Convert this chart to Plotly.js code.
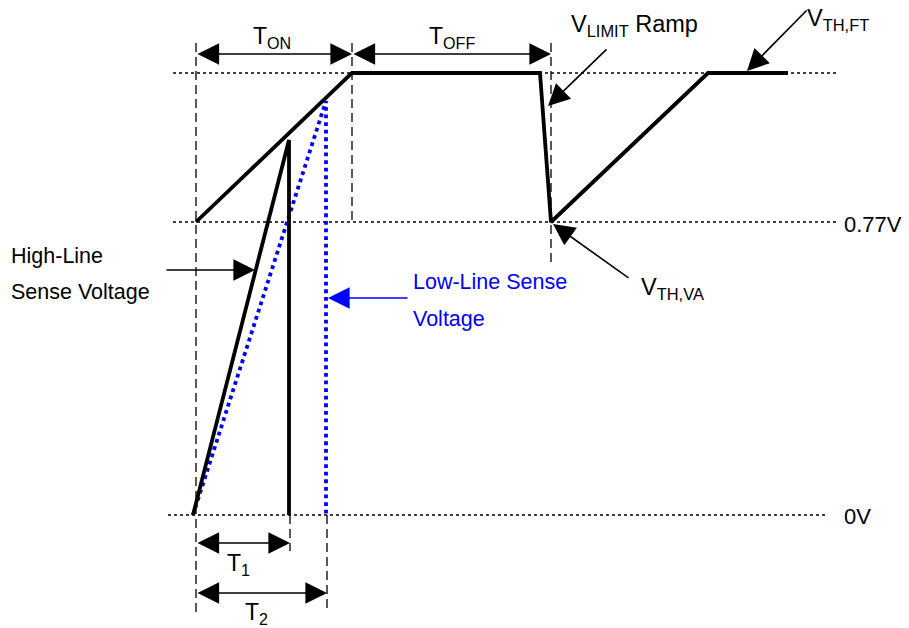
<!DOCTYPE html>
<html>
<head>
<meta charset="utf-8">
<script src="https://cdn.plot.ly/plotly-3.0.1.min.js"></script>
<style>html,body{margin:0;padding:0;background:#fff;}#chart{width:909px;height:628px;}</style>
</head>
<body>
<div id="chart"></div>
<script>
// ---- diagram data (drawing units = reference pixels) ----
const levelNames = ["VTH,FT", "0.77V", "0V"];
const levelY = [73, 222, 515];
const levelX0 = [173, 173, 168];
const levelX1 = [838, 838, 826];

const markerX = [196, 352, 551, 290, 327];
const markerY0 = [43, 43, 43, 515, 515];
const markerY1 = [612, 222, 262, 551, 612];

const limitX = [196, 352, 540, 551, 708, 788];
const limitY = [222, 73, 73, 222, 73, 73];

const highLineX = [193, 289, 289];
const highLineY = [515, 140, 515];

const lowLineX = [193, 326, 326];
const lowLineY = [515, 101, 515];

const spanNames = ["T<sub>ON</sub>", "T<sub>OFF</sub>", "T<sub>1</sub>", "T<sub>2</sub>"];
const spanX0 = [196, 352, 196, 196];
const spanX1 = [352, 551, 290, 327];
const spanY = [54, 54, 543, 593];
const spanLabelX = [272, 452, 238, 256];
const spanLabelY = [37, 37, 564, 613];

const calloutText = ["V<sub>LIMIT</sub> Ramp", "V<sub>TH,FT</sub>", "V<sub>TH,VA</sub>"];
const calloutTextX = [634, 838, 672];
const calloutTextY = [25, 19, 288];
const calloutTailX = [608, 808, 630];
const calloutTailY = [48, 9, 279];
const calloutHeadX = [548, 747, 553];
const calloutHeadY = [106, 71, 224];

const levelLabels = ["0.77V", "0V"];
const levelLabelX = [842, 842];
const levelLabelY = [224, 516];

const senseLines = [["High-Line", "Sense Voltage"], ["Low-Line Sense", "Voltage"]];
const senseColors = ["#000000", "#0000ff"];
const senseTextX = [9, 411];
const senseTextY = [[256, 292], [282, 319]];
const senseTailX = [165, 409];
const senseTailY = [270, 298];
const senseHeadX = [255, 328];
const senseHeadY = [270, 298];

// ---- build traces ----
const traces = [];
levelY.forEach((y, i) => {
  traces.push({x: [levelX0[i], levelX1[i]], y: [y, y], mode: "lines",
    line: {color: "#000", width: 1.5, dash: "dot"}, hoverinfo: "skip"});
});
markerX.forEach((x, i) => {
  traces.push({x: [x, x], y: [markerY0[i], markerY1[i]], mode: "lines",
    line: {color: "#000", width: 1.3, dash: "9px,5px"}, hoverinfo: "skip"});
});
traces.push({x: lowLineX, y: lowLineY, mode: "lines",
  line: {color: "#0000ff", width: 3.8, dash: "dot"}, hoverinfo: "skip"});
traces.push({x: highLineX, y: highLineY, mode: "lines",
  line: {color: "#000", width: 3.8}, hoverinfo: "skip"});
traces.push({x: limitX, y: limitY, mode: "lines",
  line: {color: "#000", width: 3.8}, hoverinfo: "skip"});

const FAMILY = "Liberation Sans, Arial, sans-serif";
const ann = [];
function arrow(hx, hy, tx, ty, color, both) {
  ann.push({x: hx, y: hy, ax: tx, ay: ty, xref: "x", yref: "y", axref: "x", ayref: "y",
    text: "", showarrow: true, arrowhead: 2, arrowsize: 2.7, arrowwidth: 1.6,
    arrowcolor: color, standoff: 0, startstandoff: 0,
    arrowside: both ? "end+start" : "end", startarrowhead: 2, startarrowsize: 2.7});
}
function label(x, y, t, color, anchor, size) {
  ann.push({x: x, y: y, xref: "x", yref: "y", text: t, showarrow: false,
    xanchor: anchor || "center", yanchor: "middle",
    font: {family: FAMILY, size: size || 21.5, color: color || "#000"}});
}
spanNames.forEach((t, i) => {
  arrow(spanX1[i], spanY[i], spanX0[i], spanY[i], "#000", true);
  label(spanLabelX[i], spanLabelY[i], t, "#000", "center", 23);
});
calloutText.forEach((t, i) => {
  arrow(calloutHeadX[i], calloutHeadY[i], calloutTailX[i], calloutTailY[i], "#000", false);
  label(calloutTextX[i], calloutTextY[i], t, "#000", "center", 23.5);
});
levelLabels.forEach((t, i) => label(levelLabelX[i], levelLabelY[i], t, "#000", "left", 22));
senseLines.forEach((lines, i) => {
  lines.forEach((t, j) => label(senseTextX[i], senseTextY[i][j], t, senseColors[i], "left", 21.5));
  arrow(senseHeadX[i], senseHeadY[i], senseTailX[i], senseTailY[i], senseColors[i], false);
});

const hidden = {visible: true, showgrid: false, zeroline: false, showticklabels: false,
  ticks: "", showline: false, fixedrange: true};
const layout = {
  width: 909, height: 628, margin: {l: 0, r: 0, t: 0, b: 0},
  paper_bgcolor: "#fff", plot_bgcolor: "#fff", showlegend: false,
  xaxis: Object.assign({range: [0, 909]}, hidden),
  yaxis: Object.assign({range: [628, 0]}, hidden),
  annotations: ann
};
Plotly.newPlot("chart", traces, layout, {staticPlot: true, displayModeBar: false});
</script>
</body>
</html>
